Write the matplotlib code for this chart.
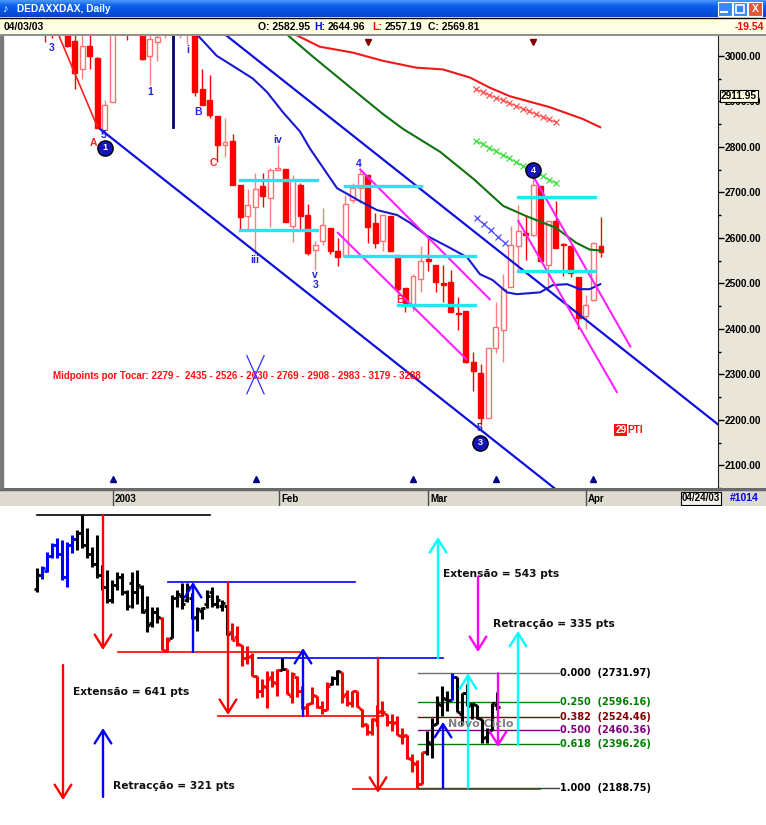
import numpy as np
import matplotlib.pyplot as plt
from matplotlib.patches import Rectangle
from matplotlib.colors import LinearSegmentedColormap
from matplotlib.transforms import blended_transform_factory

plt.rcParams['font.family'] = ['Liberation Sans', 'DejaVu Sans']

W, H = 766, 825

### Data

# DAX daily bars, index 0 ~ 20 Nov 2002, index 92 = 03 Apr 2003
opens = [3130, 3200, 3220, 3290, 3340, 3300, 3190, 3340, 3370, 3400,
         3340, 3300, 3250, 3200, 3140, 3080, 3150, 3190, 3120, 3160,
         3120, 3140, 3033, 2972, 3022, 2996, 2837, 2898, 3090, 3100,
         3080, 3090, 3000, 3030, 3060, 3120, 3060, 3050, 3050, 2928,
         2902, 2867, 2804, 2813, 2717, 2648, 2667, 2713, 2687, 2750,
         2752, 2626, 2715, 2650, 2574, 2593, 2622, 2570, 2559, 2683,
         2709, 2737, 2633, 2593, 2648, 2563, 2489, 2454, 2509, 2554,
         2541, 2500, 2502, 2435, 2439, 2326, 2302, 2204, 2357, 2398,
         2491, 2583, 2611, 2607, 2713, 2541, 2637, 2587, 2583, 2513,
         2428, 2463, 2582.95]
highs = [3230, 3240, 3306, 3349, 3373, 3363, 3354, 3387, 3411, 3482,
         3420, 3330, 3387, 3245, 3221, 3173, 3212, 3207, 3126, 3212,
         3221, 3150, 3100, 3045, 3045, 2998, 2902, 3102, 3126, 3159,
         3159, 3112, 3045, 3045, 3126, 3140, 3102, 3078, 3055, 2972,
         2957, 2867, 2863, 2828, 2717, 2707, 2743, 2743, 2754, 2804,
         2752, 2739, 2720, 2674, 2593, 2665, 2622, 2600, 2693, 2720,
         2750, 2737, 2654, 2650, 2648, 2563, 2489, 2520, 2583, 2600,
         2541, 2541, 2530, 2470, 2439, 2350, 2322, 2357, 2459, 2520,
         2626, 2672, 2650, 2731.97, 2713, 2639, 2680, 2589, 2583, 2513,
         2474, 2591, 2644.96]
lows = [3117, 3180, 3212, 3278, 3278, 3173, 3140, 3302, 3316, 3325,
        3278, 3235, 3183, 3126, 3064, 3064, 3126, 3102, 3031, 3040,
        3060, 3020, 2928, 2950, 2972, 2841, 2832, 2898, 3045, 3035,
        3069, 2990, 2935, 2989, 3040, 3045, 3040, 3026, 2912, 2891,
        2863, 2767, 2778, 2717, 2615, 2620, 2565, 2667, 2624, 2750,
        2635, 2591, 2620, 2563, 2530, 2585, 2565, 2539, 2559, 2676,
        2676, 2589, 2578, 2572, 2572, 2476, 2437, 2439, 2480, 2528,
        2480, 2459, 2437, 2398, 2324, 2263, 2188.75, 2204, 2346, 2328,
        2491, 2528, 2552, 2604, 2550, 2487, 2578, 2517, 2513, 2400,
        2400, 2461, 2557.19]
closes = [3200, 3230, 3290, 3340, 3300, 3190, 3340, 3370, 3400, 3340,
          3300, 3250, 3200, 3140, 3080, 3150, 3190, 3120, 3050, 3120,
          3150, 3022, 2963, 3022, 3000, 2841, 2891, 3090, 3110, 3060,
          3140, 2993, 3037, 3042, 3100, 3060, 3080, 3065, 2920, 2891,
          2870, 2804, 2811, 2717, 2646, 2672, 2707, 2691, 2748, 2754,
          2635, 2728, 2648, 2567, 2585, 2628, 2572, 2557, 2674, 2709,
          2741, 2624, 2589, 2650, 2572, 2487, 2452, 2515, 2548, 2550,
          2502, 2496, 2437, 2433, 2328, 2307, 2204, 2357, 2404, 2487,
          2585, 2615, 2607, 2715, 2550, 2637, 2578, 2585, 2522, 2424,
          2452, 2589, 2569.81]
# colour of each bar in the lower panel (b = blue, k = black, r = red)
bar_colours = 'k' + 'b' * 7 + 'k' * 17 + 'r' * 2 + 'k' * 12 + 'r' * 10 + 'k' + 'r' * 9 + 'k' * 2 + 'r' * 17 + 'k' * 5 + 'b' + 'k' * 9

# moving averages on the upper chart (bar index, value)
ma_blue_x = [38.1, 40.9, 43.6, 45.7, 47.6, 49.7, 52.0, 53.3, 56.9, 60.0, 62.2, 64.9, 66.6,
             68.9, 71.9, 74.2, 75.9, 77.6, 79.5, 80.8, 83.9, 85.6, 87.5, 89.2, 90.5, 91.9]
ma_blue_y = [3050, 3000, 2972, 2950, 2920, 2876, 2833, 2796, 2709, 2680, 2661, 2650, 2633,
             2604, 2578, 2557, 2520, 2507, 2480, 2476, 2480, 2496, 2498, 2487, 2487, 2498]
ma_green_x = [50.0, 53.7, 59.0, 63.0, 65.7, 70.6, 75.0, 79.0, 82.0, 86.0, 88.7, 90.5, 91.9]
ma_green_y = [3050, 2998, 2926, 2872, 2839, 2789, 2730, 2670, 2648, 2622, 2589, 2574, 2572]
ma_red_x = [51.3, 54.6, 59.0, 63.0, 67.4, 71.0, 74.6, 77.2, 79.9, 85.2, 89.6, 91.9]
ma_red_y = [3047, 3020, 3007, 2989, 2974, 2970, 2952, 2930, 2911, 2887, 2861, 2843]

# trend lines: ((x0, y0), (x1, y1))
channel_lines = [((25.4, 2839), (86.0, 2047)), ((42.0, 3047), (108.0, 2184))]
wave_a_line = ((19.0, 3080), (25.0, 2845))
magenta_lines = [((60.0, 2750), (77.2, 2465)), ((57.0, 2611), (74.1, 2333)),
                 ((83.0, 2735), (95.9, 2361)), ((81.0, 2637), (94.1, 2261))]
# cyan range boxes: (x0, x1, level)
cyan_lines = [(44.0, 54.2, 2728), (44.0, 54.2, 2617), (58.0, 68.1, 2713), (58.0, 75.3, 2561),
              (65.0, 75.3, 2452), (81.0, 91.2, 2689), (81.0, 91.2, 2528)]
# lines drawn with crosses: (x0, y0, x1, y1, n crosses, colour)
cross_lines = [(75.4, 2926, 86.0, 2854, 13, '#FF5050'), (75.4, 2813, 86.0, 2720, 13, '#40DD40'),
               (75.5, 2643, 79.2, 2589, 5, '#5050FF')]
cycle_line = (35.1, 2843)   # navy vertical marker from the top of the chart

wave_labels = [('3', 19.0, 3017, 'b'), ('1', 32.0, 2920, 'b'), ('i', 37.1, 3013, 'b'),
               ('B', 38.4, 2876, 'b'), ('iii', 46.0, 2552, 'b'), ('iv', 49.05, 2815, 'b'),
               ('v', 54.0, 2518, 'b'), ('3', 54.0, 2496, 'b'), ('4', 59.8, 2763, 'b'),
               ('5', 25.9, 2826, 'b'), ('5', 75.9, 2182, 'b'), ('A', 24.45, 2809, 'r'),
               ('C', 40.4, 2765, 'r'), ('B', 65.3, 2463, 'r')]
circle_labels = [('1', 26.05, 2798), ('3', 75.9, 2150), ('4', 83.0, 2748)]
down_marks = [61.0, 83.0]
up_marks = [27.1, 46.1, 67.0, 78.0, 90.9]
month_starts = [27.1, 49.2, 69.0, 90.0]
month_names = ['2003', 'Feb', 'Mar', 'Apr']
midpoints = [2279, 2435, 2526, 2630, 2769, 2908, 2983, 3179, 3288]

# lower panel annotations
swing_lines = [(0, 34.6, 3483.6, 'black'), (16.2, 52.6, 2833, 'red'), (26.2, 63.6, 3165.5, 'blue'),
               (36.2, 69.2, 2529, 'red'), (44.2, 81.2, 2804.6, 'blue'), (63.2, 100.6, 2182.6, 'red')]
arrows = [(13.2, 3483.6, 2842.6, 'red'), (31.2, 2833, 3165.5, 'blue'), (38.2, 3165.5, 2534, 'red'),
          (53.2, 2529, 2852, 'blue'), (68.2, 2804.6, 2164.6, 'red'), (5.2, 2771, 2130, 'red'),
          (13.2, 2145, 2472, 'blue'), (80.2, 2804.6, 3379, '#00FFFF'), (88.2, 3189, 2833, '#FF00FF'),
          (96.2, 2392, 2933, '#00FFFF'), (81.2, 2188.75, 2501, 'blue'),
          (86.2, 2188.75, 2731.97, '#00FFFF'), (92.2, 2731.97, 2382, '#FF00FF')]
notes = [('Extensão = 641 pts', 7.2, 2643), ('Retracção = 321 pts', 15.2, 2197),
         ('Extensão = 543 pts', 81.2, 3203), ('Retracção = 335 pts', 91.2, 2966)]
fib_high, fib_low = 2731.97, 2188.75
fib_ratios = [0.0, 0.25, 0.382, 0.5, 0.618, 1.0]
fib_line_cols = ['#707070', '#008000', '#800000', '#800080', '#008000', '#404040']
fib_text_cols = ['black', '#008000', '#800000', '#800080', '#008000', 'black']


def box(x0, y0, x1, y1):
    # pixel box -> figure fraction
    return [x0 / W, 1 - y1 / H, (x1 - x0) / W, (y1 - y0) / H]


def plain(a):
    a.set_xticks([])
    a.set_yticks([])
    for s in a.spines.values():
        s.set_visible(False)


fig = plt.figure(figsize=(W / 100, H / 100), dpi=100)

### Window title bar
ax_t = fig.add_axes(box(0, 0, W, 17))
title_cmap = LinearSegmentedColormap.from_list('xp', ['#4A96FA', '#0B5FEA', '#0553E0', '#0846C4'])
ax_t.imshow(np.linspace(0, 1, 32)[:, None], aspect='auto', cmap=title_cmap, extent=(0, W, 17, 0))
ax_t.set_xlim(0, W)
ax_t.set_ylim(17, 0)
plain(ax_t)
ax_t.text(6, 9, '♪', color='white', fontsize=8, ha='center', va='center')
ax_t.text(17, 9, 'DEDAXXDAX, Daily', color='white', fontsize=7.3, fontweight='bold', va='center')
for bx, fc in [(718, '#3C86F4'), (733, '#3C86F4'), (748, '#E0573A')]:
    ax_t.add_patch(Rectangle((bx, 1.5), 14, 14, fc=fc, ec='white', lw=0.8))
ax_t.plot([721, 727], [12, 12], color='white', lw=1.5)
ax_t.add_patch(Rectangle((736, 4.5), 8, 8, fc='none', ec='white', lw=1.2))
ax_t.text(755, 8.8, 'X', color='white', fontsize=7.5, fontweight='bold', ha='center', va='center')

### Info bar
ax_i = fig.add_axes(box(0, 17, W, 36))
ax_i.set_facecolor('#FFFFE8')
ax_i.set_xlim(0, W)
ax_i.set_ylim(19, 0)
plain(ax_i)
ax_i.axhline(0.5, color='black', lw=1)
ax_i.axhline(18.3, color='#909090', lw=1.5)
kw = dict(fontsize=7.5, fontweight='bold', va='center')
ax_i.text(4, 9.5, '04/03/03', color='black', **kw)
ax_i.text(258, 9.5, 'O: 2582.95', color='black', **kw)
ax_i.text(314, 9.5, 'H:', color='#0000E0', **kw)
ax_i.text(328, 9.5, '2644.96', color='black', **kw)
ax_i.text(372, 9.5, 'L:', color='red', **kw)
ax_i.text(385, 9.5, '2557.19', color='black', **kw)
ax_i.text(428, 9.5, 'C: 2569.81', color='black', **kw)
ax_i.text(764, 9.5, '-19.54', color='red', ha='right', fontsize=7.5, fontweight='bold', va='center')

### Right price-scale panel and left frame
ax_rp = fig.add_axes(box(718, 36, W, 488))
ax_rp.set_facecolor('#E9E5D9')
plain(ax_rp)
fig.add_artist(Rectangle((0, 1 - 488 / H), 3 / W, 452 / H, transform=fig.transFigure,
                         color='#7A7A7A', zorder=5))

### Upper candlestick chart
o = np.array(opens)
h = np.array(highs)
l = np.array(lows)
c = np.array(closes)
idx = np.arange(len(o))
up = c >= o

ax = fig.add_axes(box(3, 36, 718, 488))
ax.set_xlim(12.48, 107.56)
ax.set_ylim(2063, 3043.5)
ax.set_facecolor('white')
for s in ['top', 'left', 'bottom']:
    ax.spines[s].set_visible(False)
ax.spines['right'].set_color('#202020')
ax.set_xticks([])
ax.yaxis.tick_right()
ax.set_yticks(np.arange(2100, 3001, 100))
ax.set_yticklabels([f'{v:.2f}' for v in np.arange(2100, 3001, 100)])
ax.set_yticks(np.arange(2050, 3001, 50), minor=True)
ax.tick_params(axis='y', which='major', length=4, width=1, pad=1, labelsize=7.3)
ax.tick_params(axis='y', which='minor', length=2, width=1)
for lab in ax.get_yticklabels():
    lab.set_fontweight('bold')

# wicks and bodies
ax.vlines(idx, l, h, colors=np.where(up, '#FF8080', '#FF0000'), lw=1, zorder=2)
ax.bar(idx[up], (c - o)[up], bottom=o[up], width=0.66, facecolor='white',
       edgecolor='#FF7070', lw=1, zorder=3)
ax.bar(idx[~up], (o - c)[~up], bottom=c[~up], width=0.66, facecolor='#FF0000',
       edgecolor='#FF0000', lw=1, zorder=3)

# moving averages
ax.plot(ma_red_x, ma_red_y, color='#F01818', lw=1.5, zorder=4)
ax.plot(ma_green_x, ma_green_y, color='#0F720F', lw=1.5, zorder=4)
ax.plot(ma_blue_x, ma_blue_y, color='#1818D0', lw=1.5, zorder=4)

# trend lines
for (x0, y0), (x1, y1) in channel_lines:
    ax.plot([x0, x1], [y0, y1], color='#1010DD', lw=1.6, zorder=4)
ax.plot(*zip(*wave_a_line), color='#FF2020', lw=1.2, zorder=4)
for (x0, y0), (x1, y1) in magenta_lines:
    ax.plot([x0, x1], [y0, y1], color='#FF20FF', lw=1.5, zorder=4)
for x0, x1, lvl in cyan_lines:
    ax.plot([x0, x1], [lvl, lvl], color='#20E8F0', lw=2.4, zorder=4)
for x0, y0, x1, y1, n, col in cross_lines:
    ax.plot([x0, x1], [y0, y1], color=col, lw=0.8, zorder=4)
    ax.plot(np.linspace(x0, x1, n), np.linspace(y0, y1, n), 'x', color=col, ms=5, mew=0.9, zorder=4)
ax.plot([cycle_line[0], cycle_line[0]], [3043.5, cycle_line[1]], color='#000070', lw=2, zorder=4)

# wave count labels
for txt, x, y, col in wave_labels:
    ax.text(x, y, txt, color='#2424DD' if col == 'b' else '#FF2020', fontsize=7.5,
            fontweight='bold', ha='center', va='center', zorder=6)
for txt, x, y in circle_labels:
    ax.plot(x, y, 'o', ms=11, mfc='#1414B8', mec='black', mew=1, zorder=6)
    ax.text(x, y, txt, color='white', fontsize=6.5, fontweight='bold', ha='center', va='center', zorder=7)
ax.plot(down_marks, [3031] * len(down_marks), 'v', color='#800000', ms=5, zorder=6)
ax.plot(up_marks, [2069] * len(up_marks), '^', color='#000080', ms=5, zorder=6)

mid_txt = 'Midpoints por Tocar: ' + str(midpoints[0]) + ' -  ' + ' - '.join(str(v) for v in midpoints[1:])
ax.text(19.13, 2296, mid_txt, color='#FF1010', fontsize=7, fontweight='bold', va='center', zorder=6)
ax.plot([44.9, 47.2], [2341, 2257], color='#3030FF', lw=0.9, zorder=7)
ax.plot([47.2, 44.9], [2341, 2257], color='#3030FF', lw=0.9, zorder=7)
ax.text(93.9, 2177, '29', color='white', fontsize=7.3, fontweight='bold', va='center',
        bbox=dict(fc='#FF1010', ec='none', pad=0.6), zorder=6)
ax.text(95.5, 2177, 'PTI', color='#FF1010', fontsize=7.3, fontweight='bold', va='center', zorder=6)

trans = blended_transform_factory(ax.transAxes, ax.transData)
ax.text(1.004, 2911.95, '2911.95', transform=trans, fontsize=7.3, fontweight='bold', va='center',
        bbox=dict(fc='#FFFFE0', ec='black', lw=0.8, pad=0.8), zorder=8)

### Date bar
ax_db = fig.add_axes(box(0, 488, W, 506))
ax_db.set_facecolor('#DEDAD0')
ax_db.set_xlim(0, W)
ax_db.set_ylim(18, 0)
plain(ax_db)
ax_db.axhline(1, color='#6A6A6A', lw=2.5)
ax_db.add_patch(Rectangle((681, 4), 40, 13, fc='#F4F2EA', ec='black', lw=0.8))
ax_db.text(701, 10.5, '04/24/03', fontsize=7, fontweight='bold', ha='center', va='center')
ax_db.text(744, 10.5, '#1014', color='#0000E0', fontsize=7.5, fontweight='bold', ha='center', va='center')

ax_dl = fig.add_axes(box(3, 488, 718, 506))
ax_dl.patch.set_alpha(0)
ax_dl.set_xlim(12.48, 107.56)
ax_dl.set_ylim(0, 1)
plain(ax_dl)
for m, name in zip(month_starts, month_names):
    ax_dl.plot([m, m], [0, 0.85], color='#505050', lw=1)
    ax_dl.text(m + 0.25, 0.38, name, fontsize=7, fontweight='bold', va='center')

### Lower panel: bar chart with swing / fibonacci annotations
ax2 = fig.add_axes(box(0, 506, W, H))
ax2.set_xlim(-7.4, 145.8)
ax2.set_ylim(2011.6, 3526.4)
plain(ax2)

cmap_bar = {'b': '#0000FF', 'k': 'black', 'r': '#FF0000'}
cols = [cmap_bar[ch] for ch in bar_colours]
ax2.vlines(idx, l, h, colors=cols, lw=2.2, zorder=3)
ax2.hlines(o, idx - 0.55, idx, colors=cols, lw=2.0, zorder=3)
ax2.hlines(c, idx, idx + 0.55, colors=cols, lw=2.0, zorder=3)

for x0, x1, lvl, col in swing_lines:
    ax2.plot([x0, x1], [lvl, lvl], color=col, lw=1.2, zorder=2)
for x, y0, y1, col in arrows:
    ax2.annotate('', xy=(x, y1), xytext=(x, y0),
                 arrowprops=dict(arrowstyle='->,head_length=0.95,head_width=0.6', color=col,
                                 lw=1.7, shrinkA=0, shrinkB=0), zorder=4)

fib_x0, fib_x1 = 76.2, 104.4
for r, lc, tc in zip(fib_ratios, fib_line_cols, fib_text_cols):
    lvl = fib_high - r * (fib_high - fib_low)
    ax2.plot([fib_x0, fib_x1], [lvl, lvl], color=lc, lw=1, zorder=2)
    ax2.text(fib_x1 + 0.2, lvl, f'{r:.3f}  ({lvl:.2f})', color=tc, fontsize=7,
             fontweight='bold', family='DejaVu Sans', va='center')

for txt, x, y in notes:
    ax2.text(x, y, txt, fontsize=7.7, fontweight='bold', family='DejaVu Sans', va='center', color='#101010')
ax2.text(82.2, 2491, 'Novo Ciclo', fontsize=8, fontweight='bold', family='DejaVu Sans',
         color='#808080', va='center', zorder=5)

fig.savefig('out.png', dpi=100, facecolor='white')
